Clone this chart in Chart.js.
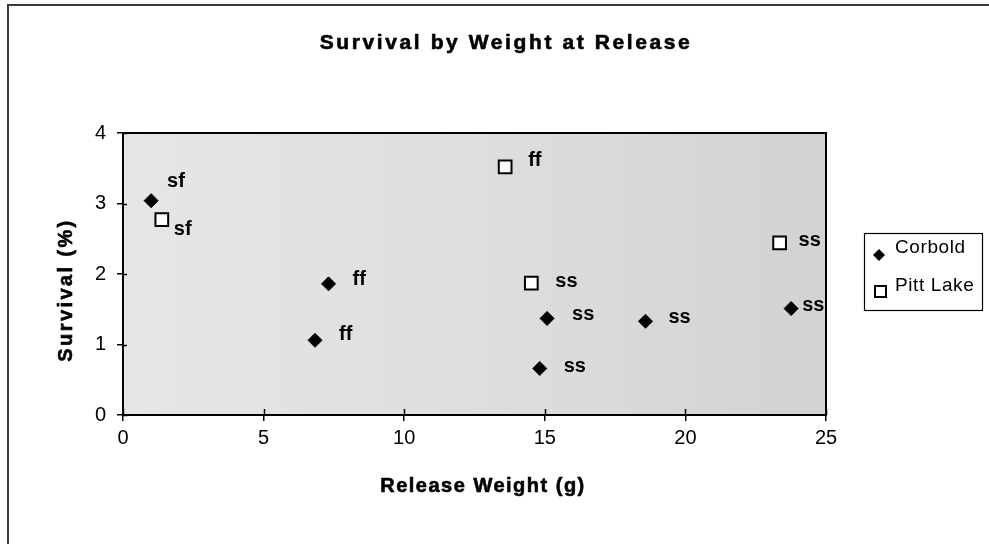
<!DOCTYPE html>
<html>
<head>
<meta charset="utf-8">
<script src="https://cdn.jsdelivr.net/npm/chart.js@4/dist/chart.umd.min.js"></script>
<style>
  html, body { margin: 0; padding: 0; background: #ffffff; }
  #wrap { width: 989px; height: 544px; position: relative; }
</style>
</head>
<body>
<div id="wrap"><canvas id="c" width="989" height="544"></canvas></div>
<script>
// ---- Data ----
const corboldWeight   = [1.0, 7.31, 6.83, 15.08, 14.82, 18.58, 23.76];
const corboldSurvival = [3.04, 1.86, 1.06, 1.37, 0.66, 1.33, 1.51];
const corboldLabels   = ['sf', 'ff', 'ff', 'ss', 'ss', 'ss', 'ss'];

const pittWeight   = [1.38, 13.59, 14.52, 23.35];
const pittSurvival = [2.77, 3.52, 1.87, 2.44];
const pittLabels   = ['sf', 'ff', 'ss', 'ss'];

const seriesNames = ['Corbold', 'Pitt Lake'];
const xTicks = [0, 5, 10, 15, 20, 25];
const yTicks = [0, 1, 2, 3, 4];

const titleText = 'Survival by Weight at Release';
const xTitleText = 'Release Weight (g)';
const yTitleText = 'Survival (%)';

// ---- Build ----
const FONT = '"Liberation Sans", Arial, Helvetica, sans-serif';
const toPts = (xs, ys) => xs.map((x, i) => ({ x: x, y: ys[i] }));

// label offsets (dx to left edge of text, dy of text center) per dataset / point
const labelOffsets = [
  [[16, -19], [24, -4], [24, -6], [25, -4], [24, -2], [23, -4], [11, -3]],
  [[12, 10], [23, -6], [24, -2], [19, -2]]
];
const pointLabels = [corboldLabels, pittLabels];

const decorPlugin = {
  id: 'decor',
  beforeDatasetsDraw(chart) {
    const ctx = chart.ctx, a = chart.chartArea;
    ctx.save();
    const g = ctx.createLinearGradient(a.left, 0, a.right, 0);
    g.addColorStop(0, '#e6e6e6');
    g.addColorStop(0.5, '#dedede');
    g.addColorStop(1, '#d2d2d2');
    ctx.fillStyle = g;
    ctx.fillRect(a.left, a.top, a.right - a.left, a.bottom - a.top);
    ctx.restore();
  },
  beforeDraw(chart) {
    const ctx = chart.ctx;
    ctx.save();
    ctx.strokeStyle = '#3a3a3a';
    ctx.lineWidth = 2;
    ctx.beginPath();
    ctx.moveTo(989, 5);
    ctx.lineTo(8, 5);
    ctx.lineTo(8, 544);
    ctx.stroke();
    ctx.restore();
  },
  afterDraw(chart) {
    const ctx = chart.ctx, a = chart.chartArea;
    const xs = chart.scales.x, ys = chart.scales.y;
    ctx.save();
    // plot border
    ctx.strokeStyle = '#000';
    ctx.lineWidth = 2;
    ctx.strokeRect(a.left, a.top, a.right - a.left, a.bottom - a.top);
    // inward parts of cross tick marks
    ctx.lineWidth = 1.5;
    ctx.beginPath();
    xTicks.forEach(v => {
      const px = Math.round(xs.getPixelForValue(v)) + 0.5;
      ctx.moveTo(px, a.bottom);
      ctx.lineTo(px, a.bottom - 6);
    });
    yTicks.forEach(v => {
      const py = Math.round(ys.getPixelForValue(v)) + 0.5;
      ctx.moveTo(a.left, py);
      ctx.lineTo(a.left + 4, py);
    });
    ctx.stroke();

    // title
    ctx.fillStyle = '#000';
    ctx.strokeStyle = '#000';
    ctx.textBaseline = 'middle';
    ctx.textAlign = 'center';
    ctx.font = 'bold 21px ' + FONT;
    ctx.letterSpacing = '2.6px';
    ctx.lineWidth = 0.6;
    ctx.fillText(titleText, 506, 43);
    ctx.strokeText(titleText, 506, 43);

    // x axis title
    ctx.font = 'bold 20px ' + FONT;
    ctx.letterSpacing = '1.5px';
    ctx.fillText(xTitleText, 483, 486);
    ctx.strokeText(xTitleText, 483, 486);

    // y axis title
    ctx.save();
    ctx.translate(66, 290);
    ctx.rotate(-Math.PI / 2);
    ctx.letterSpacing = '2.4px';
    ctx.fillText(yTitleText, 0, 0);
    ctx.strokeText(yTitleText, 0, 0);
    ctx.restore();

    // data labels
    ctx.letterSpacing = '0px';
    ctx.textAlign = 'left';
    ctx.font = 'bold 20px ' + FONT;
    chart.data.datasets.forEach((ds, di) => {
      const meta = chart.getDatasetMeta(di);
      meta.data.forEach((el, i) => {
        const off = labelOffsets[di][i];
        ctx.fillText(pointLabels[di][i], el.x + off[0], el.y + off[1]);
      });
    });

    // legend
    const lx = 864, ly = 233, lw = 118, lh = 77;
    ctx.fillStyle = '#fff';
    ctx.fillRect(lx, ly, lw, lh);
    ctx.strokeStyle = '#000';
    ctx.lineWidth = 1.2;
    ctx.strokeRect(lx + 0.5, ly + 0.5, lw, lh);
    ctx.font = '19px ' + FONT;
    ctx.letterSpacing = '0.6px';
    ctx.fillStyle = '#000';
    const dx = 879, dy = 255, dr = 6;
    ctx.beginPath();
    ctx.moveTo(dx - dr, dy); ctx.lineTo(dx, dy - dr); ctx.lineTo(dx + dr, dy); ctx.lineTo(dx, dy + dr);
    ctx.closePath();
    ctx.fill();
    ctx.fillText(seriesNames[0], 895, 248);
    ctx.fillStyle = '#fff';
    ctx.fillRect(875, 286, 11, 11);
    ctx.lineWidth = 2;
    ctx.strokeRect(875, 286, 11, 11);
    ctx.fillStyle = '#000';
    ctx.fillText(seriesNames[1], 895, 286);
    ctx.restore();
  }
};

new Chart(document.getElementById('c'), {
  type: 'scatter',
  data: {
    datasets: [
      {
        label: seriesNames[0],
        data: toPts(corboldWeight, corboldSurvival),
        pointStyle: 'rectRot',
        pointRadius: 7,
        pointHoverRadius: 7,
        backgroundColor: '#000',
        borderColor: '#000',
        borderWidth: 1
      },
      {
        label: seriesNames[1],
        data: toPts(pittWeight, pittSurvival),
        pointStyle: 'rect',
        pointRadius: 9,
        pointHoverRadius: 9,
        backgroundColor: '#fff',
        borderColor: '#000',
        borderWidth: 2
      }
    ]
  },
  options: {
    responsive: false,
    devicePixelRatio: 1,
    animation: false,
    events: [],
    layout: { padding: { top: 133, right: 163, bottom: 0, left: 0 } },
    plugins: {
      legend: { display: false },
      title: { display: false },
      tooltip: { enabled: false }
    },
    scales: {
      x: {
        type: 'linear',
        min: xTicks[0],
        max: xTicks[xTicks.length - 1],
        afterBuildTicks: s => { s.ticks = xTicks.map(v => ({ value: v })); },
        ticks: { color: '#000', font: { family: FONT, size: 20 }, padding: 5, maxRotation: 0 },
        grid: { display: true, drawOnChartArea: false, drawTicks: true, tickLength: 6, color: '#000', lineWidth: 1.5 },
        border: { display: true, color: '#000', width: 2 },
        afterFit: s => { s.height = 129; }
      },
      y: {
        type: 'linear',
        min: yTicks[0],
        max: yTicks[yTicks.length - 1],
        afterBuildTicks: s => { s.ticks = yTicks.map(v => ({ value: v })); },
        ticks: { color: '#000', font: { family: FONT, size: 20 }, padding: 11 },
        grid: { display: true, drawOnChartArea: false, drawTicks: true, tickLength: 6, color: '#000', lineWidth: 1.5 },
        border: { display: true, color: '#000', width: 2 },
        afterFit: s => { s.width = 123; }
      }
    }
  },
  plugins: [decorPlugin]
});
</script>
</body>
</html>
